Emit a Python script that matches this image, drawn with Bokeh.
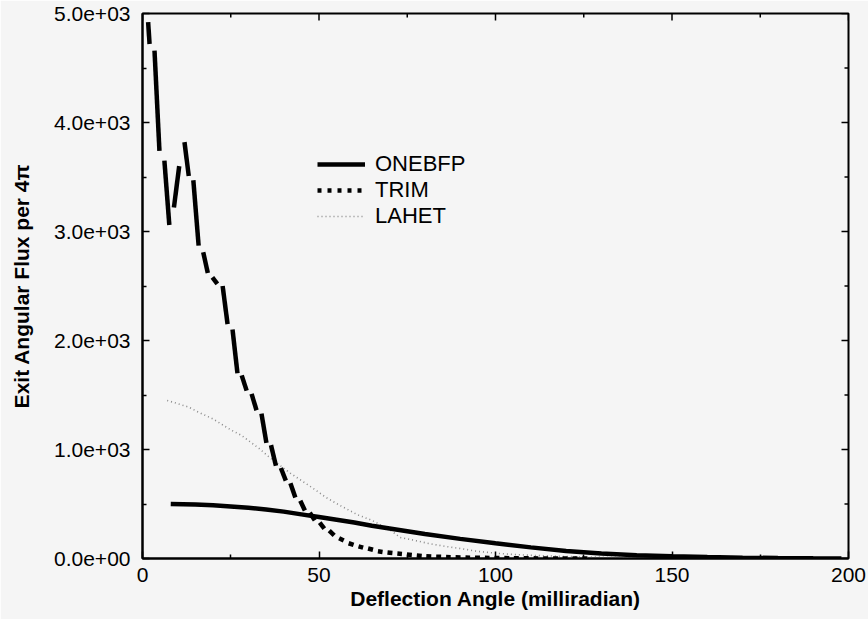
import math
from bokeh.plotting import figure
from bokeh.models import (FixedTicker, Legend, LegendItem, Range1d, ColumnDataSource)
from bokeh.embed import file_html
from bokeh.resources import INLINE

# ---------------- data ----------------
x_min, x_max = 0, 200
y_min, y_max = 0, 5000
x_ticks = [0, 50, 100, 150, 200]
x_minor = [25, 75, 125, 175]
x_tick_labels = ["0", "50", "100", "150", "200"]
y_ticks = [0, 1000, 2000, 3000, 4000, 5000]
y_minor = [500, 1500, 2500, 3500, 4500]
y_tick_labels = ["0.0e+00", "1.0e+03", "2.0e+03", "3.0e+03", "4.0e+03", "5.0e+03"]

onebfp_x = [8, 15, 20, 25, 30, 35, 40, 45, 50, 55, 60, 65, 70, 80, 90, 100,
            110, 120, 130, 140, 150, 160, 170, 180, 190, 198]
onebfp_y = [500, 495, 488, 478, 465, 450, 430, 405, 380, 355, 330, 300, 275,
            225, 180, 140, 102, 68, 45, 30, 20, 13, 8, 4, 2, 1]

lahet_x = [7, 10, 13, 16, 20, 25, 28, 33, 37, 42, 48, 52, 56, 61, 65, 70, 73,
           78, 81, 86, 90, 95, 101, 106, 111, 120, 130, 140, 150, 160, 170, 184]
lahet_y = [1450, 1420, 1390, 1340, 1280, 1180, 1130, 1010, 900, 780, 651, 560,
           486, 400, 350, 265, 193, 160, 138, 110, 92, 65, 46, 35, 28, 18, 12,
           8, 5, 3, 2, 1]

# TRIM: consecutive vertex pairs (start, end) of each drawn piece
trim_x = [1.6, 2.0, 3.4, 4.8, 6.2, 7.6, 8.9, 10.4, 11.9, 13.1, 14.4, 15.9,
          17.2, 18.5, 19.8, 21.2, 22.7, 24.1, 25.5, 26.9, 28.1, 29.5, 30.9, 32.3,
          33.7, 35.1, 36.4, 37.8, 39.2, 40.6, 41.9, 43.3, 44.7, 46.0, 47.4, 48.8,
          50.2, 51.5, 52.9, 54.3, 55.7, 57.0, 58.4, 59.8, 61.2, 62.5, 63.9, 65.3,
          66.7, 68.0, 69.4, 70.8, 72.2, 73.5, 74.9, 76.3, 77.7, 79.1, 80.4, 81.8,
          83.2, 84.6, 86.0, 87.3, 88.7, 90.1, 91.5, 92.8, 94.2, 95.6, 97.0, 98.3,
          99.7, 101.1, 102.5, 103.9, 105.2, 106.6, 108.0, 109.4, 110.8, 112.1,
          113.5, 114.9, 116.3, 117.7, 119.0, 120.4, 121.8, 123.2, 124.6, 125.9]
trim_y = [4920, 4720, 4660, 3740, 3650, 3060, 3220, 3600, 3820, 3510, 3470, 2870,
          2810, 2620, 2580, 2520, 2500, 2150, 2100, 1700, 1680, 1540, 1510, 1360,
          1330, 1060, 1040, 850, 830, 715, 690, 560, 530, 440, 420, 350,
          330, 275, 255, 212, 185, 165, 140, 125, 112, 100, 92, 80,
          66, 60, 55, 50, 46, 42, 37, 33, 28, 24, 20, 18,
          16, 15, 13, 12, 11, 10, 9, 8, 7, 7, 6, 5,
          5, 4, 4, 3, 3, 3, 2, 2, 2, 1,
          1, 1, 1, 1, 1, 1, 1, 0, 0, 0]

series_labels = ["ONEBFP", "TRIM", "LAHET"]

# ---------------- figure ----------------
BG = "#f5f5f5"
FONT = "Liberation Sans"

p = figure(width=868, height=619, x_range=Range1d(x_min, x_max),
           y_range=Range1d(y_min, y_max),
           output_backend="svg", toolbar_location=None,
           min_border_left=142, min_border_right=20, min_border_top=13,
           min_border_bottom=61,
           background_fill_color=BG, border_fill_color=BG)
p.grid.visible = False
p.outline_line_color = "black"
p.outline_line_width = 2


def style_axis(ax):
    ax.axis_line_width = 2
    ax.axis_line_color = "black"
    ax.major_tick_in = 7
    ax.major_tick_out = 0
    ax.minor_tick_in = 4
    ax.minor_tick_out = 0
    ax.major_tick_line_width = 1.5
    ax.minor_tick_line_width = 1.5
    ax.major_tick_line_color = "black"
    ax.minor_tick_line_color = "black"
    ax.major_label_text_font = FONT
    ax.major_label_text_color = "black"
    ax.major_label_text_font_size = "21px"
    ax.axis_label_text_font = FONT
    ax.axis_label_text_font_style = "bold"
    ax.axis_label_text_font_size = "21px"
    ax.axis_label_text_color = "black"


xa = p.xaxis[0]
xa.ticker = FixedTicker(ticks=x_ticks, minor_ticks=x_minor)
xa.major_label_overrides = {t: s for t, s in zip(x_ticks, x_tick_labels)}
style_axis(xa)
xa.major_label_standoff = 9
xa.axis_label = "Deflection Angle (milliradian)"
xa.axis_label_standoff = 2

ya = p.yaxis[0]
ya.ticker = FixedTicker(ticks=y_ticks, minor_ticks=y_minor)
ya.major_label_overrides = {t: s for t, s in zip(y_ticks, y_tick_labels)}
style_axis(ya)
ya.major_label_standoff = 12
ya.axis_label = "Exit Angular Flux per 4π"
ya.axis_label_standoff = 18

# mirrored inward ticks on the top and right frame edges (clipped to frame)
p.scatter(x=x_ticks, y=[y_max] * len(x_ticks), marker="dash", angle=math.pi / 2,
          size=14, line_color="black", line_width=1.5)
p.scatter(x=x_minor, y=[y_max] * len(x_minor), marker="dash", angle=math.pi / 2,
          size=8, line_color="black", line_width=1.5)
p.scatter(x=[x_max] * len(y_ticks), y=y_ticks, marker="dash",
          size=14, line_color="black", line_width=1.5)
p.scatter(x=[x_max] * len(y_minor), y=y_minor, marker="dash",
          size=8, line_color="black", line_width=1.5)

# ---------------- series ----------------
r_lahet = p.line(lahet_x, lahet_y, line_color="#8a8a8a", line_width=1.6,
                 line_dash="1 3")

r_one = p.line(onebfp_x, onebfp_y, line_color="black", line_width=4.5,
               line_cap="butt")

trim_src = ColumnDataSource(dict(x0=trim_x[0::2], y0=trim_y[0::2],
                                 x1=trim_x[1::2], y1=trim_y[1::2]))
p.segment(x0="x0", y0="y0", x1="x1", y1="y1", source=trim_src,
          line_color="black", line_width=4.5, line_cap="butt")
# legend proxy for TRIM (a single point, so it draws nothing in the plot)
r_trim_leg = p.line(x=[trim_x[-1]], y=[trim_y[-1]], line_color="black",
                    line_width=4.5, line_dash="4 6")

legend = Legend(items=[LegendItem(label=series_labels[0], renderers=[r_one]),
                       LegendItem(label=series_labels[1], renderers=[r_trim_leg]),
                       LegendItem(label=series_labels[2], renderers=[r_lahet])],
                location=(175, 329), margin=0, padding=0, spacing=0,
                glyph_width=48, glyph_height=20, label_height=20,
                label_standoff=10,
                label_text_font=FONT, label_text_font_size="22px",
                label_text_color="black",
                background_fill_alpha=0, border_line_alpha=0)
p.add_layout(legend)

open("out.html", "w").write(file_html(p, INLINE))
